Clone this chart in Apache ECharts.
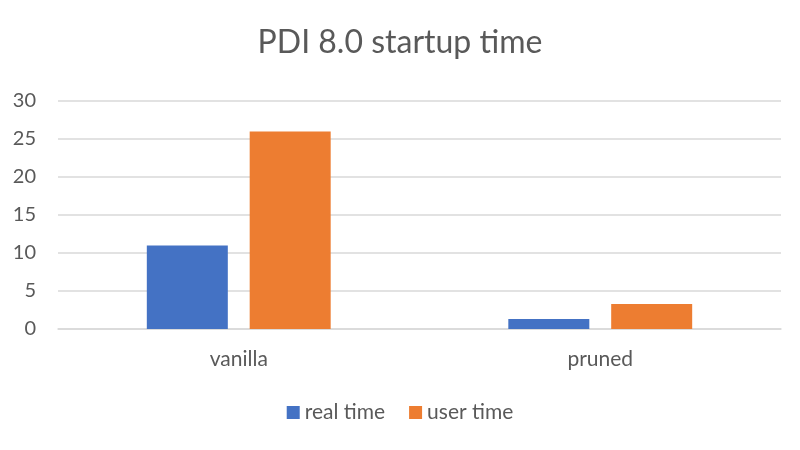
<!DOCTYPE html>
<html><head><meta charset="utf-8">
<script src="https://cdn.jsdelivr.net/npm/echarts@6/dist/echarts.min.js"></script>
<style>html,body{margin:0;padding:0;background:#fff}#c{width:800px;height:450px}</style>
</head><body><div id="c"></div>
<script>
const categories = ['vanilla', 'pruned'];
const realTime = [11, 1.3];
const userTime = [26, 3.3];
const yTicks = [0, 5, 10, 15, 20, 25, 30];

const font = 'Lato, "Open Sans", sans-serif';
const chart = echarts.init(document.getElementById('c'));
chart.setOption({
  backgroundColor: '#fff',
  animation: false,
  title: {
    text: 'PDI 8.0 startup time', left: 'center', top: 22,
    textStyle: { fontFamily: font, fontSize: 32, fontWeight: 'normal', color: '#595959' }
  },
  legend: {
    bottom: 22, left: 'center', itemWidth: 13, itemHeight: 13, itemGap: 24,
    icon: 'rect',
    textStyle: { fontFamily: font, fontSize: 21, color: '#595959' },
    data: ['real time', 'user time']
  },
  grid: { left: 58, right: 19, top: 101, bottom: 121, containLabel: false },
  xAxis: {
    type: 'category', data: categories,
    axisLine: { lineStyle: { color: '#d9d9d9', width: 1.5 } },
    axisTick: { show: false },
    axisLabel: { fontFamily: font, fontSize: 21, color: '#595959', margin: 20 }
  },
  yAxis: {
    type: 'value', min: yTicks[0], max: yTicks[yTicks.length - 1], interval: 5,
    axisLine: { show: false }, axisTick: { show: false },
    splitLine: { lineStyle: { color: '#d9d9d9', width: 1.5 } },
    axisLabel: { fontFamily: font, fontSize: 20, color: '#595959', margin: 22 }
  },
  series: [
    { name: 'real time', type: 'bar', data: realTime, barWidth: 81, barGap: '27%',
      itemStyle: { color: '#4472C4' } },
    { name: 'user time', type: 'bar', data: userTime, barWidth: 81, barGap: '27%',
      itemStyle: { color: '#ED7D31' } }
  ]
});
</script></body></html>
